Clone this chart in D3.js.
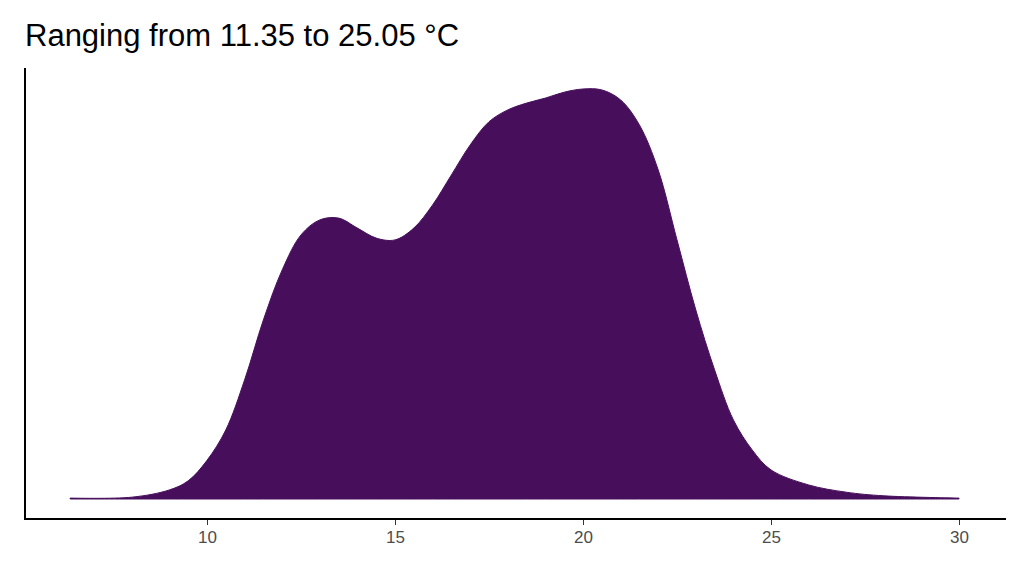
<!DOCTYPE html>
<html><head><meta charset="utf-8">
<script src="https://cdn.jsdelivr.net/npm/d3@7"></script>
<style>body{margin:0;background:#fff}</style>
</head><body>
<svg id="chart" width="1024" height="576"></svg>
<script>
// temperature (°C) and density
const temps = [6.36, 8, 9, 9.5, 10, 10.5, 11, 11.5, 12, 12.5, 13, 13.5, 14, 14.5, 15, 15.5, 16, 16.5, 17, 17.5, 18, 18.5, 19, 19.5, 20, 20.5, 21, 21.5, 22, 22.5, 23, 23.5, 24, 24.5, 25, 26, 27, 28, 30];
const density = [0.0002, 0.0004, 0.002, 0.004, 0.0085, 0.0152, 0.0262, 0.0394, 0.0504, 0.0581, 0.0614, 0.0618, 0.0596, 0.0574, 0.057, 0.0596, 0.0647, 0.0713, 0.0779, 0.083, 0.0856, 0.0871, 0.0882, 0.0895, 0.0902, 0.09, 0.0878, 0.0823, 0.0724, 0.057, 0.0416, 0.0284, 0.0174, 0.0108, 0.0064, 0.0031, 0.0015, 0.0007, 0.0002];
const xTicks = [10, 15, 20, 25, 30];

const svg = d3.select('#chart');
const x = d3.scaleLinear().domain([10, 30]).range([207, 959]);
const y = d3.scaleLinear().domain([0, 0.0902]).range([499, 89]);

svg.append('text').attr('x', 25).attr('y', 46)
  .attr('font-family', 'Liberation Sans, Arial, sans-serif').attr('font-size', 31)
  .attr('fill', '#000').text('Ranging from 11.35 to 25.05 °C');

const pts = temps.map((t, i) => [t, density[i]]);
const area = d3.area().x(d => x(d[0])).y0(y(0)).y1(d => y(d[1])).curve(d3.curveCatmullRom);
svg.append('path').datum(pts).attr('d', area)
  .attr('fill', '#470E5C').attr('stroke', '#470E5C').attr('stroke-width', 1);

// axes
const xAxis = svg.append('g').attr('transform', 'translate(0,519)')
  .call(d3.axisBottom(x).tickValues(xTicks).tickSize(6).tickPadding(6));
xAxis.select('.domain').remove();
xAxis.selectAll('.tick line').attr('stroke', '#333');
xAxis.selectAll('text').attr('font-family', 'Liberation Sans, Arial, sans-serif')
  .attr('font-size', 17).attr('fill', '#4d4d4d');
svg.append('line').attr('x1', 24).attr('x2', 1006).attr('y1', 519).attr('y2', 519)
  .attr('stroke', '#000').attr('stroke-width', 2);
svg.append('line').attr('x1', 25).attr('x2', 25).attr('y1', 68).attr('y2', 520)
  .attr('stroke', '#000').attr('stroke-width', 2);
</script>
</body></html>
